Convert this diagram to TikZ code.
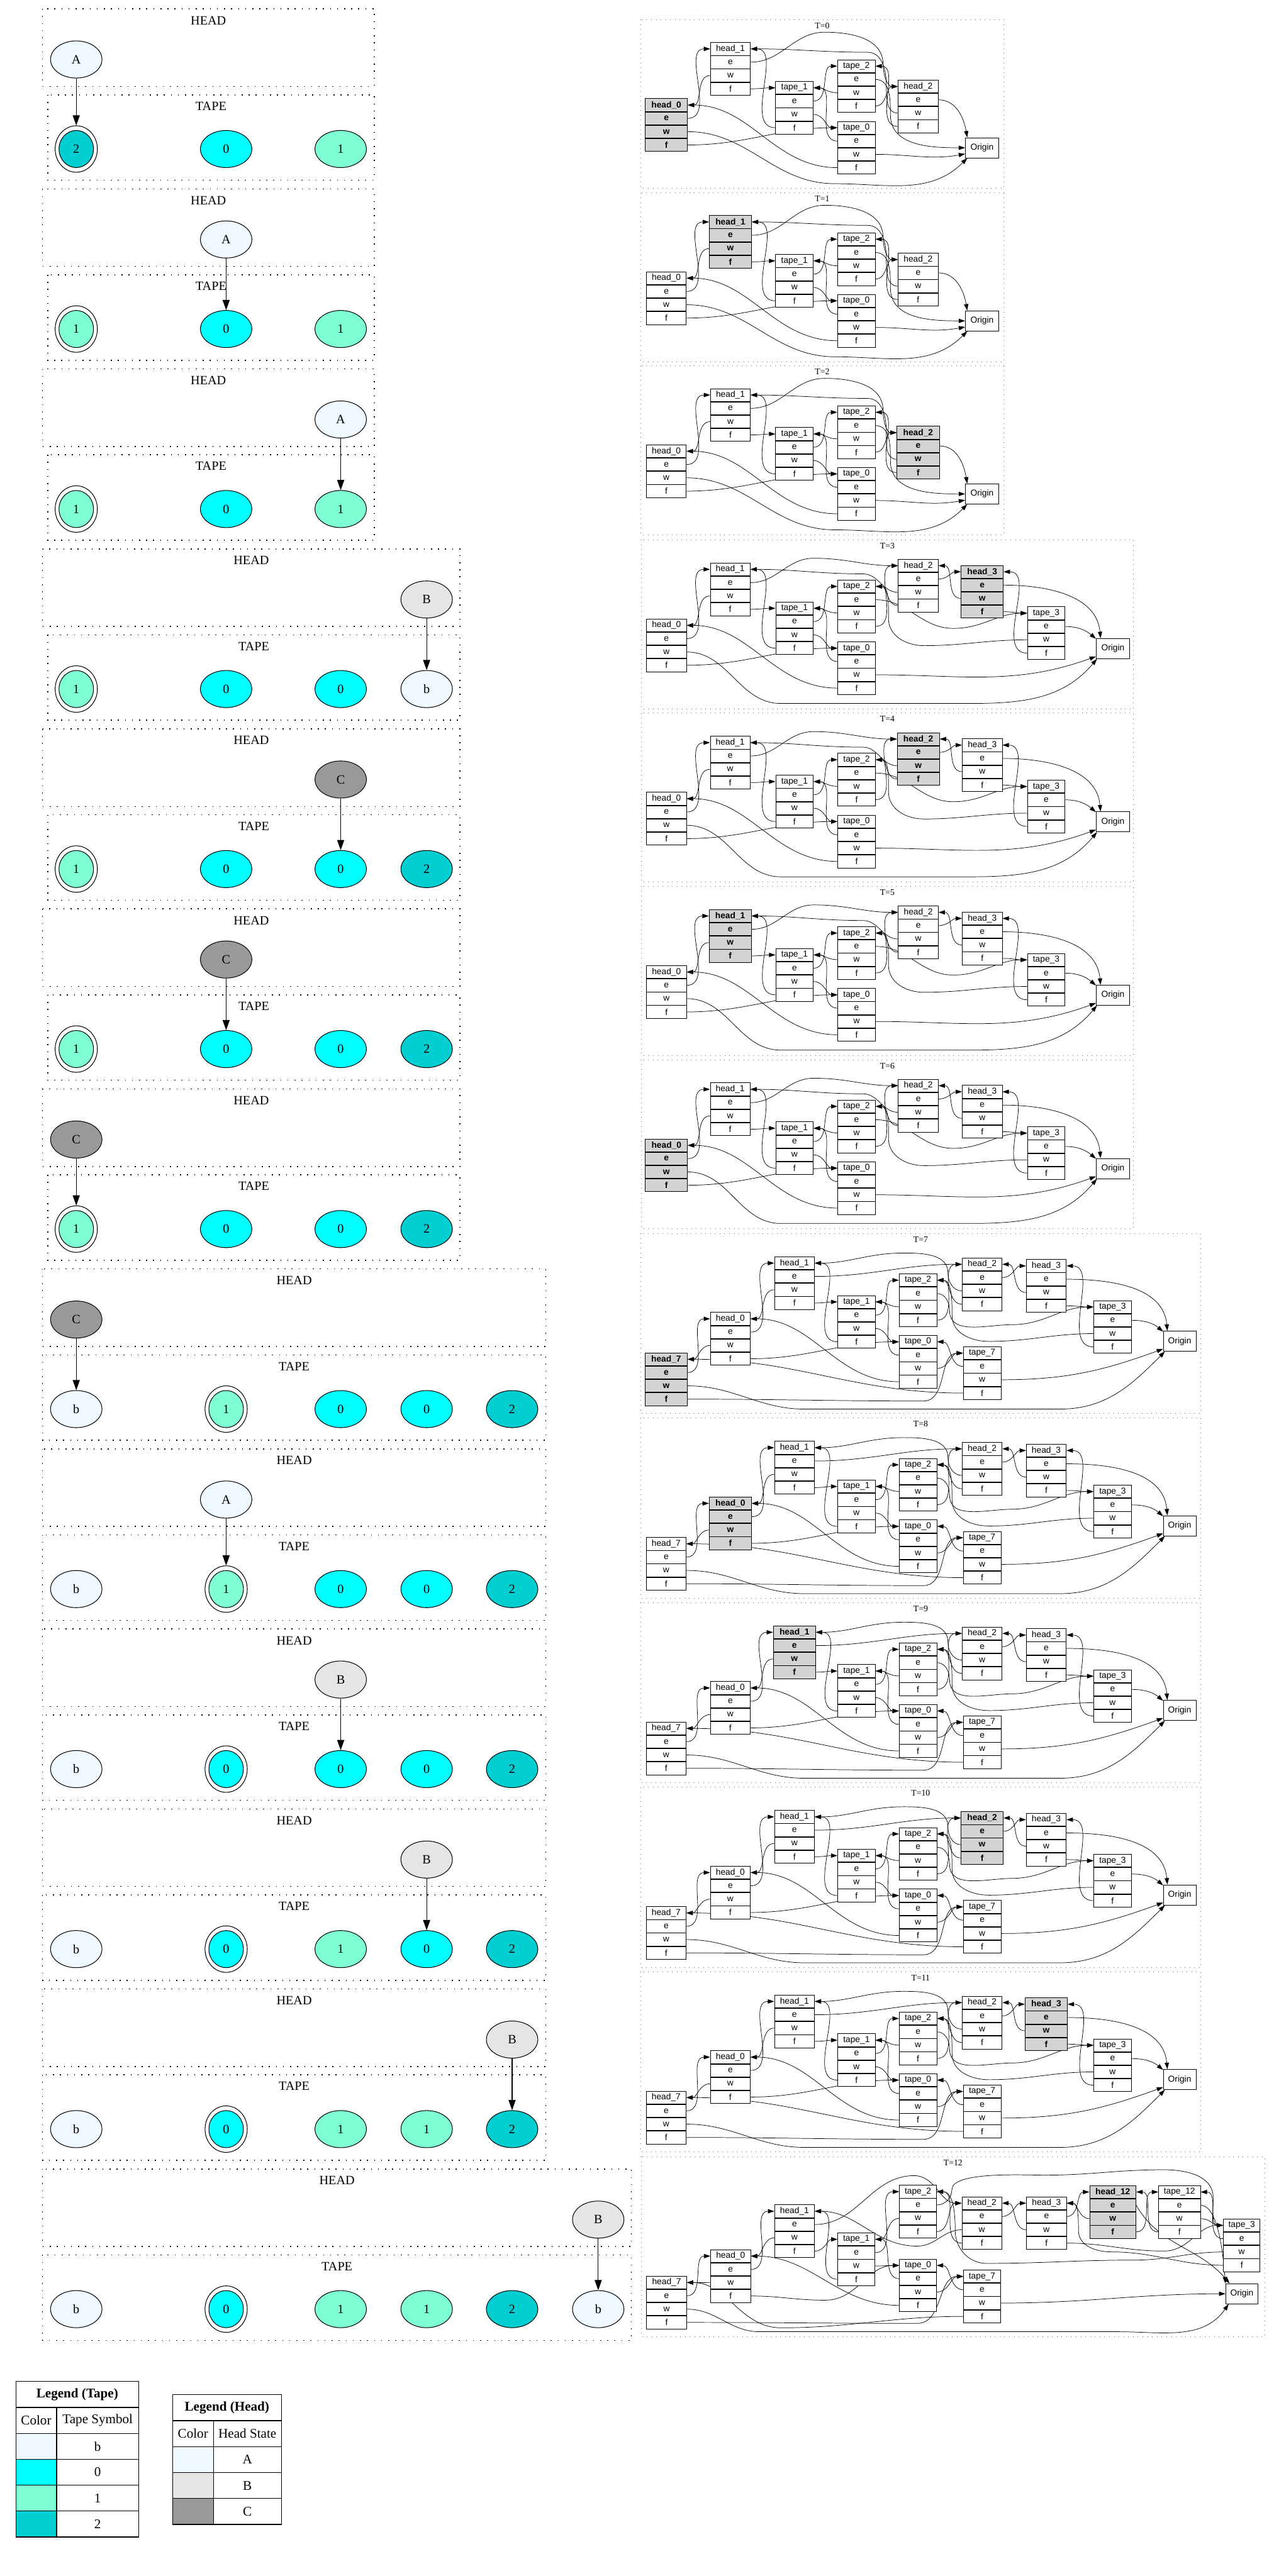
\documentclass[tikz,border=0pt]{standalone}
\usepackage{fontspec}
\setmainfont{Liberation Serif}
\setsansfont{Liberation Sans}
\usetikzlibrary{shapes.geometric,arrows.meta}
\pgfdeclarelayer{edges}
\pgfsetlayers{edges,main}
\definecolor{cb}{HTML}{F0F8FF}
\definecolor{c0}{HTML}{00FFFF}
\definecolor{c1}{HTML}{7FFFD4}
\definecolor{c2}{HTML}{00CED1}
\definecolor{hA}{HTML}{F0F8FF}
\definecolor{hB}{HTML}{E5E5E5}
\definecolor{hC}{HTML}{999999}
\definecolor{hlg}{HTML}{D3D3D3}
\newcommand\LF{\rmfamily\fontsize{22pt}{26pt}\selectfont}
\newcommand\GF{\rmfamily\fontsize{23pt}{27pt}\selectfont}
\newcommand\RF{\sffamily\fontsize{15pt}{17pt}\selectfont}
\newcommand\TF{\rmfamily\fontsize{15pt}{17pt}\selectfont}
\tikzset{
 fld/.style={draw, line width=0.3mm, minimum height=7.8mm, inner sep=0pt, fill=white, font=\RF},
 hl/.style={fill=hlg, font=\RF\bfseries, minimum width=25.7mm},
 sH0/.style={}, sH1/.style={}, sH2/.style={}, sH3/.style={}, sH7/.style={},
 edge/.style={line width=0.28mm, -{Triangle[length=3.9mm,width=2.6mm]}},
 rbox/.style={draw=black!60, line width=0.3mm, dash pattern=on 0.3mm off 2.6mm},
 tlab/.style={font=\TF, inner sep=0pt},
 cbox/.style={draw=black, line width=0.6mm, dash pattern=on 0.6mm off 3.7mm},
 clab/.style={font=\LF, inner sep=0pt},
 cell/.style={ellipse, draw, line width=0.4mm, minimum width=31.3mm, minimum height=22.6mm, inner sep=0pt, font=\LF},
 dcell/.style={ellipse, draw, line width=0.4mm, minimum width=21mm, minimum height=22.6mm, inner sep=0pt, font=\LF},
 dout/.style={ellipse, draw, line width=0.4mm, minimum width=25.7mm, minimum height=28.3mm, inner sep=0pt},
 harrow/.style={line width=0.4mm, -{Triangle[length=6.2mm,width=4.3mm]}},
 lg/.style={draw, line width=0.45mm, inner sep=0pt, anchor=north west, font=\GF, minimum height=15.77mm},
}
\newcommand\Rec[6]{%
 \node[fld,minimum width=#4mm,#6,anchor=north] (#1) at (#2,#3) {#5};
 \node[fld,minimum width=#4mm,#6,anchor=north] (#1e) at (#1.south) {e};
 \node[fld,minimum width=#4mm,#6,anchor=north] (#1w) at (#1e.south) {w};
 \node[fld,minimum width=#4mm,#6,anchor=north] (#1f) at (#1w.south) {f};}
\newcommand\FW[2]{\draw[edge] (#1.east) to[out=0,in=180] (#2.west);}
\newcommand\BW[2]{\draw[edge] (#1.west) to[out=180,in=0] (#2.east);}
\newcommand\RBox[4]{\draw[rbox] (0,0) rectangle (#2,#3); \node[tlab] (#1lab) at ({#2/2},3.7) {#4};}
% ---------- layout A (T=0..2)
\newcommand\LayA[1]{%
 \Rec{#1H0}{15.65}{47.9}{24.3}{head\_0}{sH0}
 \Rec{#1H1}{54.65}{13.7}{24.3}{head\_1}{sH1}
 \Rec{#1T1}{93.6}{37.4}{22.9}{tape\_1}{}
 \Rec{#1T2}{131.25}{24.2}{22.9}{tape\_2}{}
 \Rec{#1T0}{131.25}{61.7}{22.9}{tape\_0}{}
 \Rec{#1H2}{168.85}{36.6}{24.3}{head\_2}{sH2}
 \node[fld,minimum width=20.3mm,minimum height=12.3mm] (#1O) at (207.75,77.95) {Origin};
 \begin{pgfonlayer}{edges}
 \FW{#1H0e}{#1H1}\BW{#1H1w}{#1H0}\FW{#1H1f}{#1T1}\BW{#1T1f}{#1H1}
 \FW{#1T1e}{#1T2}\BW{#1T2w}{#1T1}\FW{#1T1w}{#1T0}\BW{#1T0e}{#1T1}
 \FW{#1H0f}{#1T0}\BW{#1T0f}{#1H0}
 \BW{#1H2f}{#1T2}\FW{#1T2f}{#1H2}
 \draw[edge] (#1H1e.east) to[out=0,in=180] (112,7.6) to[out=0,in=90] (147.5,27) to[out=-90,in=180] (#1H2.west);
 \draw[edge] (#1H2w.west) to[out=180,in=-90] (149.5,40) to[out=90,in=0] (138,19.8) to[out=180,in=0] (#1H1.east);
 \draw[edge] (#1T2e.east) to[out=0,in=90] (152,58) to[out=-90,in=180] (#1O.west);
 \draw[edge] (#1T0w.east) to[out=0,in=190] (#1O.200);
 \draw[edge] (#1H0w.east) to[out=0,in=180] (118,99.8) to[out=0,in=225] (#1O.215);
 \draw[edge] (#1H2e.east) to[out=0,in=100] (#1O.145);
 \end{pgfonlayer}}
% ---------- layout B (T=3..6)
\newcommand\LayB[1]{%
 \Rec{#1H0}{15.4}{48.1}{24.3}{head\_0}{sH0}
 \Rec{#1H1}{54.2}{14.0}{24.3}{head\_1}{sH1}
 \Rec{#1T1}{93.35}{37.7}{22.9}{tape\_1}{}
 \Rec{#1T2}{131.1}{24.4}{22.9}{tape\_2}{}
 \Rec{#1T0}{131.1}{62.0}{22.9}{tape\_0}{}
 \Rec{#1H2}{168.65}{11.8}{24.3}{head\_2}{sH2}
 \Rec{#1H3}{207.55}{15.5}{24.3}{head\_3}{sH3}
 \Rec{#1T3}{246.5}{40.7}{22.9}{tape\_3}{}
 \node[fld,minimum width=20.3mm,minimum height=12.3mm] (#1O) at (287.05,66.25) {Origin};
 \begin{pgfonlayer}{edges}
 \FW{#1H0e}{#1H1}\BW{#1H1w}{#1H0}\FW{#1H1f}{#1T1}\BW{#1T1f}{#1H1}
 \FW{#1T1e}{#1T2}\BW{#1T2w}{#1T1}\FW{#1T1w}{#1T0}\BW{#1T0e}{#1T1}
 \FW{#1H0f}{#1T0}\BW{#1T0f}{#1H0}
 \BW{#1H2f}{#1T2}\FW{#1T2f}{#1H2}
 \FW{#1H2e}{#1H3}\BW{#1H3w}{#1H2}
 \FW{#1H3f}{#1T3}\BW{#1T3f}{#1H3}
 \draw[edge] (#1H1e.east) to[out=0,in=180] (105,11.3) to[out=0,in=180] (#1H2.west);
 \draw[edge] (#1H2w.west) to[out=180,in=0] (135,20.8) to[out=180,in=0] (#1H1.east);
 \draw[edge] (#1T2e.east) to[out=0,in=180] (190,54) to[out=0,in=180] (#1T3.west);
 \draw[edge] (#1T3w.west) to[out=180,in=0] (172,64.5) to[out=180,in=-90] (150.5,48) to[out=90,in=0] (#1T2.east);
 \draw[edge] (#1T0w.east) to[out=0,in=200] (#1O.205);
 \draw[edge] (#1H0w.east) to[out=0,in=180] (85,99.7) -- (200,99.7) to[out=0,in=230] (#1O.213);
 \draw[edge] (#1H3e.east) to[out=0,in=95] (#1O.140);
 \draw[edge] (#1T3e.east) to[out=0,in=140] (#1O.150);
 \end{pgfonlayer}}
% ---------- layout C (T=7..11)
\newcommand\LayC[1]{%
 \Rec{#1H7}{15.55}{72.5}{24.3}{head\_7}{sH7}
 \Rec{#1H0}{54.6}{47.9}{24.3}{head\_0}{sH0}
 \Rec{#1H1}{93.6}{14.0}{24.3}{head\_1}{sH1}
 \Rec{#1T1}{131.35}{37.6}{22.9}{tape\_1}{}
 \Rec{#1T2}{168.75}{24.4}{22.9}{tape\_2}{}
 \Rec{#1T0}{168.75}{61.9}{22.9}{tape\_0}{}
 \Rec{#1H2}{207.8}{14.7}{24.3}{head\_2}{sH2}
 \Rec{#1T7}{207.8}{68.8}{22.9}{tape\_7}{}
 \Rec{#1H3}{246.8}{15.7}{24.3}{head\_3}{sH3}
 \Rec{#1T3}{287.15}{40.7}{22.9}{tape\_3}{}
 \node[fld,minimum width=19.8mm,minimum height=12.3mm] (#1O) at (328,65.55) {Origin};
 \begin{pgfonlayer}{edges}
 \FW{#1H7e}{#1H0}\BW{#1H0w}{#1H7}
 \FW{#1H0e}{#1H1}\BW{#1H1w}{#1H0}
 \FW{#1H0f}{#1T0}\BW{#1T0f}{#1H0}
 \FW{#1H1f}{#1T1}\BW{#1T1f}{#1H1}
 \FW{#1H1e}{#1H2}
 \FW{#1T1e}{#1T2}\BW{#1T2w}{#1T1}\FW{#1T1w}{#1T0}\BW{#1T0e}{#1T1}
 \FW{#1T2f}{#1H2}\BW{#1H2f}{#1T2}
 \FW{#1H2e}{#1H3}\BW{#1H3w}{#1H2}
 \FW{#1H3f}{#1T3}\BW{#1T3f}{#1H3}
 \BW{#1T7e}{#1T0}\FW{#1T0w}{#1T7}
 \draw[edge] (#1T7f.west) to[out=180,in=0] (#1H7.east);
 \draw[edge] (#1T7w.east) to[out=0,in=200] (#1O.205);
 \draw[edge] (#1H7w.east) to[out=0,in=180] (100,106.9) -- (255,106.9) to[out=0,in=225] (#1O.215);
 \draw[edge] (#1H7f.east) to[out=0,in=180] (172,102) to[out=0,in=180] (#1T7.west);
 \draw[edge] (#1H2w.west) to[out=180,in=-90] (187,24) to[out=90,in=0] (160,11.9) to[out=180,in=0] (#1H1.east);
 \draw[edge] (#1T2e.east) to[out=0,in=90] (188,47) to[out=-90,in=180] (226,55.5) to[out=0,in=180] (#1T3.west);
 \draw[edge] (#1T3w.west) to[out=180,in=0] (212,65.7) to[out=180,in=-90] (189.5,50) to[out=90,in=0] (#1T2.east);
 \draw[edge] (#1H3e.east) to[out=0,in=95] (#1O.140);
 \draw[edge] (#1T3e.east) to[out=0,in=140] (#1O.150);
 \end{pgfonlayer}}
% ---------- layout D (T=12)
\newcommand\LayD[1]{%
 \Rec{#1H7}{15.4}{72.6}{24.3}{head\_7}{}
 \Rec{#1H0}{54.35}{56.5}{24.3}{head\_0}{}
 \Rec{#1H1}{93.25}{29.2}{24.3}{head\_1}{}
 \Rec{#1T1}{130.85}{46.3}{22.5}{tape\_1}{}
 \Rec{#1T2}{168.35}{17.3}{22.5}{tape\_2}{}
 \Rec{#1T0}{168.35}{62.2}{22.5}{tape\_0}{}
 \Rec{#1H2}{207.25}{24.3}{24.3}{head\_2}{}
 \Rec{#1T7}{207.35}{68.9}{22.5}{tape\_7}{}
 \Rec{#1H3}{246.55}{24.3}{24.3}{head\_3}{}
 \Rec{#1H12}{286.9}{17.5}{28.2}{head\_12}{hl,minimum width=28.2mm}
 \Rec{#1T12}{327.45}{17.5}{25.5}{tape\_12}{}
 \Rec{#1T3}{365.35}{37.8}{22.3}{tape\_3}{}
 \node[fld,minimum width=19.7mm,minimum height=12.3mm] (#1O) at (365.45,83.5) {Origin};
 \begin{pgfonlayer}{edges}
 \FW{#1H7e}{#1H0}\BW{#1H0w}{#1H7}
 \FW{#1H0e}{#1H1}\BW{#1H1w}{#1H0}
 \BW{#1T0f}{#1H0}
 \FW{#1H1f}{#1T1}\BW{#1T1f}{#1H1}
 \FW{#1T1w}{#1T0}\BW{#1T0e}{#1T1}
 \FW{#1T1e}{#1T2}\BW{#1T2w}{#1T1}
 \FW{#1T2f}{#1H2}\BW{#1H2f}{#1T2}
 \FW{#1H2e}{#1H3}\BW{#1H3w}{#1H2}
 \FW{#1H3e}{#1H12}\BW{#1H12w}{#1H3}
 \FW{#1H12f}{#1T12}\BW{#1T12f}{#1H12}
 \FW{#1T12w}{#1T3}\BW{#1T3e}{#1T12}
 \BW{#1T7e}{#1T0}\FW{#1T0w}{#1T7}
 \draw[edge] (#1T7w.east) to[out=0,in=180] (#1O.west);
 \draw[edge] (#1H7w.east) to[out=0,in=180] (72,106.6) -- (290,106.6) to[out=0,in=235] (#1O.218);
 \draw[edge] (#1H7f.east) to[out=0,in=180] (168,101.5) to[out=0,in=180] (#1T7.west);
 \draw[edge] (#1T7f.west) to[out=180,in=0] (85,104.2) to[out=180,in=0] (#1H7.east);
 \draw[edge] (#1H0f.east) to[out=0,in=180] (112,87.4) to[out=0,in=180] (#1T0.west);
 \draw[edge] (#1H1e.east) to[out=0,in=180] (166,11.6) to[out=0,in=180] (#1H2.west);
 \draw[edge] (#1H2w.west) to[out=180,in=0] (168,54.5) to[out=180,in=0] (#1H1.east);
 \draw[edge] (#1H3f.east) to[out=0,in=180] (318,57.5) to[out=0,in=180] (#1T3.west);
 \draw[edge] (#1T3f.west) to[out=180,in=0] (286,58) to[out=180,in=-90] (266,45) to[out=90,in=0] (#1H3.east);
 \draw[edge] (#1T3w.west) to[out=180,in=0] (300,63) to[out=180,in=0] (210,65) to[out=180,in=-90] (191,45) to[out=90,in=0] (#1T2.east);
 \draw[edge] (#1T2e.east) to[out=0,in=-90] (189,20) to[out=90,in=180,looseness=0.5] (245,11.3) to[out=0,in=180] (318,8) to[out=0,in=90] (348,25) to[out=-90,in=180] (#1T3.west);
 \draw[edge] (#1T12e.east) to[out=0,in=95,looseness=0.6] (#1O.north west);
 \draw[edge] (#1H12e.east) to[out=-60,in=130] (#1O.140);
 \end{pgfonlayer}}
% ---------- left panels
\newcommand\Frames[3]{%
 \draw[cbox] (25.9,0) rectangle (#2,47.2);
 \node[clab] (#1hl) at ({(25.9+#2)/2},7) {HEAD};
 \draw[cbox] (#3,52.3) rectangle (#2,104.3);
 \node[clab] (#1tl) at ({(#3+#2)/2},59.2) {TAPE};}
\newcommand\Cell[4]{\node[cell,fill=#3] (#1) at (#2,85.3) {#4};}
\newcommand\DCell[4]{\node[dout] (#1) at (#2,85.3) {}; \node[dcell,fill=#3] (#1i) at (#2,85.3) {#4};}
\newcommand\Head[4]{\node[cell,fill=#3] (#1) at (#2,30.8) {#4};}
\begin{document}
\begin{tikzpicture}[x=1mm,y=-1mm]
\useasboundingbox (0,0) rectangle (775,1568);
% ===== left column
\begin{scope}[shift={(0,5.4)}]
 \Frames{L1}{227.7}{29.1}\Head{L1h}{46.4}{hA}{A}
 \DCell{L1a}{46.4}{c2}{2}\Cell{L1b}{137.6}{c0}{0}\Cell{L1c}{207.3}{c1}{1}
 \draw[harrow] (L1h.south) -- (L1a.north);
\end{scope}
\begin{scope}[shift={(0,114.97)}]
 \Frames{L2}{227.7}{29.1}\Head{L2h}{137.6}{hA}{A}
 \DCell{L2a}{46.4}{c1}{1}\Cell{L2b}{137.6}{c0}{0}\Cell{L2c}{207.3}{c1}{1}
 \draw[harrow] (L2h.south) -- (L2b.north);
\end{scope}
\begin{scope}[shift={(0,224.54)}]
 \Frames{L3}{227.7}{29.1}\Head{L3h}{207.3}{hA}{A}
 \DCell{L3a}{46.4}{c1}{1}\Cell{L3b}{137.6}{c0}{0}\Cell{L3c}{207.3}{c1}{1}
 \draw[harrow] (L3h.south) -- (L3c.north);
\end{scope}
\begin{scope}[shift={(0,334.11)}]
 \Frames{L4}{279.9}{29.1}\Head{L4h}{259.6}{hB}{B}
 \DCell{L4a}{46.4}{c1}{1}\Cell{L4b}{137.6}{c0}{0}\Cell{L4c}{207.3}{c0}{0}\Cell{L4d}{259.6}{cb}{b}
 \draw[harrow] (L4h.south) -- (L4d.north);
\end{scope}
\begin{scope}[shift={(0,443.68)}]
 \Frames{L5}{279.9}{29.1}\Head{L5h}{207.3}{hC}{C}
 \DCell{L5a}{46.4}{c1}{1}\Cell{L5b}{137.6}{c0}{0}\Cell{L5c}{207.3}{c0}{0}\Cell{L5d}{259.6}{c2}{2}
 \draw[harrow] (L5h.south) -- (L5c.north);
\end{scope}
\begin{scope}[shift={(0,553.25)}]
 \Frames{L6}{279.9}{29.1}\Head{L6h}{137.6}{hC}{C}
 \DCell{L6a}{46.4}{c1}{1}\Cell{L6b}{137.6}{c0}{0}\Cell{L6c}{207.3}{c0}{0}\Cell{L6d}{259.6}{c2}{2}
 \draw[harrow] (L6h.south) -- (L6b.north);
\end{scope}
\begin{scope}[shift={(0,662.82)}]
 \Frames{L7}{279.9}{29.1}\Head{L7h}{46.4}{hC}{C}
 \DCell{L7a}{46.4}{c1}{1}\Cell{L7b}{137.6}{c0}{0}\Cell{L7c}{207.3}{c0}{0}\Cell{L7d}{259.6}{c2}{2}
 \draw[harrow] (L7h.south) -- (L7a.north);
\end{scope}
\begin{scope}[shift={(0,772.39)}]
 \Frames{L8}{332.1}{25.9}\Head{L8h}{46.4}{hC}{C}
 \Cell{L8a}{46.4}{cb}{b}\DCell{L8b}{137.6}{c1}{1}\Cell{L8c}{207.3}{c0}{0}\Cell{L8d}{259.6}{c0}{0}\Cell{L8e}{311.6}{c2}{2}
 \draw[harrow] (L8h.south) -- (L8a.north);
\end{scope}
\begin{scope}[shift={(0,881.96)}]
 \Frames{L9}{332.1}{25.9}\Head{L9h}{137.6}{hA}{A}
 \Cell{L9a}{46.4}{cb}{b}\DCell{L9b}{137.6}{c1}{1}\Cell{L9c}{207.3}{c0}{0}\Cell{L9d}{259.6}{c0}{0}\Cell{L9e}{311.6}{c2}{2}
 \draw[harrow] (L9h.south) -- (L9b.north);
\end{scope}
\begin{scope}[shift={(0,991.53)}]
 \Frames{L10}{332.1}{25.9}\Head{L10h}{207.3}{hB}{B}
 \Cell{L10a}{46.4}{cb}{b}\DCell{L10b}{137.6}{c0}{0}\Cell{L10c}{207.3}{c0}{0}\Cell{L10d}{259.6}{c0}{0}\Cell{L10e}{311.6}{c2}{2}
 \draw[harrow] (L10h.south) -- (L10c.north);
\end{scope}
\begin{scope}[shift={(0,1101.1)}]
 \Frames{L11}{332.1}{25.9}\Head{L11h}{259.6}{hB}{B}
 \Cell{L11a}{46.4}{cb}{b}\DCell{L11b}{137.6}{c0}{0}\Cell{L11c}{207.3}{c1}{1}\Cell{L11d}{259.6}{c0}{0}\Cell{L11e}{311.6}{c2}{2}
 \draw[harrow] (L11h.south) -- (L11d.north);
\end{scope}
\begin{scope}[shift={(0,1210.67)}]
 \Frames{L12}{332.1}{25.9}\Head{L12h}{311.6}{hB}{B}
 \Cell{L12a}{46.4}{cb}{b}\DCell{L12b}{137.6}{c0}{0}\Cell{L12c}{207.3}{c1}{1}\Cell{L12d}{259.6}{c1}{1}\Cell{L12e}{311.6}{c2}{2}
 \draw[harrow] (L12h.south) -- (L12e.north);
\end{scope}
\begin{scope}[shift={(0,1320.24)}]
 \Frames{L13}{384.2}{25.9}\Head{L13h}{364}{hB}{B}
 \Cell{L13a}{46.4}{cb}{b}\DCell{L13b}{137.6}{c0}{0}\Cell{L13c}{207.3}{c1}{1}\Cell{L13d}{259.6}{c1}{1}\Cell{L13e}{311.6}{c2}{2}\Cell{L13f}{364}{cb}{b}
 \draw[harrow] (L13h.south) -- (L13f.north);
\end{scope}
% ===== right column
\begin{scope}[shift={(389.8,12.0)},sH0/.style={hl}]\RBox{ra}{221}{102.8}{T=0}\LayA{ra}\end{scope}
\begin{scope}[shift={(389.8,117.35)},sH1/.style={hl}]\RBox{rb}{221}{102.8}{T=1}\LayA{rb}\end{scope}
\begin{scope}[shift={(389.8,222.7)},sH2/.style={hl}]\RBox{rc}{221}{102.8}{T=2}\LayA{rc}\end{scope}
\begin{scope}[shift={(390.1,328.5)},sH3/.style={hl}]\RBox{rd}{299.6}{102.9}{T=3}\LayB{rd}\end{scope}
\begin{scope}[shift={(390.1,434.0)},sH2/.style={hl}]\RBox{re}{299.6}{102.9}{T=4}\LayB{re}\end{scope}
\begin{scope}[shift={(390.1,539.5)},sH1/.style={hl}]\RBox{rf}{299.6}{102.9}{T=5}\LayB{rf}\end{scope}
\begin{scope}[shift={(390.1,645.0)},sH0/.style={hl}]\RBox{rg}{299.6}{102.9}{T=6}\LayB{rg}\end{scope}
\begin{scope}[shift={(389.8,750.8)},sH7/.style={hl}]\RBox{rh}{340.8}{109.7}{T=7}\LayC{rh}\end{scope}
\begin{scope}[shift={(389.8,863.15)},sH0/.style={hl}]\RBox{ri}{340.8}{109.7}{T=8}\LayC{ri}\end{scope}
\begin{scope}[shift={(389.8,975.5)},sH1/.style={hl}]\RBox{rj}{340.8}{109.7}{T=9}\LayC{rj}\end{scope}
\begin{scope}[shift={(389.8,1087.85)},sH2/.style={hl}]\RBox{rk}{340.8}{109.7}{T=10}\LayC{rk}\end{scope}
\begin{scope}[shift={(389.8,1200.2)},sH3/.style={hl}]\RBox{rl}{340.8}{109.7}{T=11}\LayC{rl}\end{scope}
\begin{scope}[shift={(390.2,1312.7)}]\RBox{rm}{379.4}{109.7}{T=12}\LayD{rm}\end{scope}
% ===== legends
\node[lg, minimum width=74.8mm, font=\GF\bfseries] (lgt0) at (9.4,1449.4) {Legend (Tape)};
\node[lg, minimum width=24.8mm] (lgt1a) at (9.4,1465.17) {Color};
\node[lg, minimum width=50mm] (lgt1b) at (34.2,1465.17) {Tape Symbol};
\node[lg, minimum width=24.8mm, fill=cb] (lgt2a) at (9.4,1480.94) {};
\node[lg, minimum width=50mm] (lgt2b) at (34.2,1480.94) {b};
\node[lg, minimum width=24.8mm, fill=c0] (lgt3a) at (9.4,1496.71) {};
\node[lg, minimum width=50mm] (lgt3b) at (34.2,1496.71) {0};
\node[lg, minimum width=24.8mm, fill=c1] (lgt4a) at (9.4,1512.48) {};
\node[lg, minimum width=50mm] (lgt4b) at (34.2,1512.48) {1};
\node[lg, minimum width=24.8mm, fill=c2] (lgt5a) at (9.4,1528.25) {};
\node[lg, minimum width=50mm] (lgt5b) at (34.2,1528.25) {2};
\node[lg, minimum width=66.2mm, font=\GF\bfseries] (lgh0) at (104.8,1457.4) {Legend (Head)};
\node[lg, minimum width=24.8mm] (lgh1a) at (104.8,1473.2) {Color};
\node[lg, minimum width=41.4mm] (lgh1b) at (129.6,1473.2) {Head State};
\node[lg, minimum width=24.8mm, fill=hA] (lgh2a) at (104.8,1489.0) {};
\node[lg, minimum width=41.4mm] (lgh2b) at (129.6,1489.0) {A};
\node[lg, minimum width=24.8mm, fill=hB] (lgh3a) at (104.8,1504.8) {};
\node[lg, minimum width=41.4mm] (lgh3b) at (129.6,1504.8) {B};
\node[lg, minimum width=24.8mm, fill=hC] (lgh4a) at (104.8,1520.6) {};
\node[lg, minimum width=41.4mm] (lgh4b) at (129.6,1520.6) {C};
\end{tikzpicture}
\end{document}
